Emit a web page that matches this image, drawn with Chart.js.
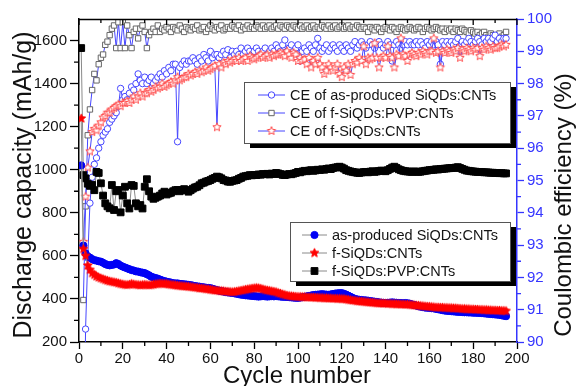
<!DOCTYPE html>
<html>
<head>
<meta charset="utf-8">
<script src="https://cdn.jsdelivr.net/npm/chart.js@4.4.0/dist/chart.umd.min.js"></script>
<style>
  html, body { margin: 0; padding: 0; background: #fff; }
  #wrap { width: 576px; height: 386px; }
</style>
</head>
<body>
<div id="wrap"><canvas id="chart" width="576" height="386"></canvas></div>
<script>
// cycle numbers 1..195
const cycles = Array.from({length: 195}, (_, i) => i + 1);

// discharge capacity (mAh/g)
const asCap = [
  1020, 648, 612, 598, 592, 585, 580, 578, 575, 573,
  568, 562, 558, 556, 558, 560, 566, 562, 555, 550,
  546, 542, 538, 534, 532, 528, 527, 524, 522, 520,
  515, 510, 503, 500, 497, 494, 490, 486, 483, 480,
  478, 476, 473, 472, 472, 470, 469, 468, 467, 465,
  464, 462, 460, 458, 457, 455, 454, 452, 451, 450,
  447, 444, 441, 438, 436, 434, 432, 430, 429, 428,
  426, 424, 422, 420, 419, 417, 416, 415, 414, 413,
  412, 411, 412, 413, 412, 411, 412, 413, 412, 413,
  412, 411, 410, 410, 409, 408, 407, 406, 405, 405,
  406, 408, 410, 412, 414, 416, 418, 419, 420, 421,
  422, 421, 420, 419, 421, 423, 425, 426, 427, 427,
  424, 420, 415, 410, 405, 400, 398, 396, 395, 394,
  393, 392, 390, 389, 387, 386, 384, 383, 382, 381,
  382, 383, 384, 383, 382, 381, 381, 380, 381, 380,
  378, 375, 372, 369, 366, 364, 362, 360, 359, 358,
  357, 356, 354, 352, 350, 348, 346, 345, 344, 343,
  342, 341, 340, 340, 339, 338, 338, 337, 337, 336,
  336, 335, 335, 334, 333, 332, 331, 330, 329, 328,
  327, 326, 324, 322, 320
];
const fCap = [
  1238, 632, 600, 555, 535, 520, 512, 505, 500, 496,
  492, 488, 485, 482, 480, 478, 476, 473, 470, 468,
  466, 465, 467, 470, 468, 466, 465, 464, 465, 466,
  465, 464, 465, 467, 469, 470, 472, 471, 470, 470,
  468, 466, 465, 464, 462, 461, 460, 459, 458, 457,
  456, 455, 453, 452, 450, 449, 448, 446, 445, 443,
  442, 440, 439, 438, 437, 436, 435, 434, 433, 432,
  433, 435, 437, 439, 441, 443, 445, 447, 449, 450,
  451, 450, 448, 445, 442, 440, 438, 436, 434, 432,
  428, 425, 422, 419, 416, 414, 413, 412, 411, 410,
  410, 409, 409, 408, 408, 407, 407, 406, 406, 405,
  405, 404, 404, 403, 403, 402, 402, 401, 401, 400,
  400, 398, 396, 395, 393, 392, 390, 389, 388, 387,
  386, 385, 384, 383, 382, 381, 380, 380, 379, 379,
  378, 378, 377, 377, 376, 376, 375, 375, 374, 374,
  373, 372, 371, 370, 369, 368, 367, 366, 365, 364,
  363, 362, 361, 361, 360, 360, 359, 359, 358, 358,
  357, 357, 356, 355, 354, 354, 353, 353, 352, 352,
  351, 351, 350, 350, 349, 349, 348, 348, 347, 347,
  346, 346, 345, 345, 344
];
const pvpCap = [
  1565, 975, 960, 935, 925, 930, 905, 990, 985, 937,
  880, 844, 830, 821, 929, 813, 900, 906, 802, 880,
  921, 844, 820, 929, 925, 844, 830, 836, 820, 921,
  956, 900, 875, 865, 870, 875, 880, 890, 898, 885,
  890, 893, 900, 905, 906, 900, 906, 910, 905, 898,
  905, 912, 918, 921, 928, 937, 940, 945, 948, 952,
  958, 962, 968, 965, 960, 952, 950, 945, 944, 948,
  950, 952, 958, 962, 968, 970, 972, 975, 974, 976,
  975, 978, 977, 980, 979, 981, 978, 982, 980, 985,
  983, 980, 976, 975, 978, 980, 979, 982, 985, 990,
  988, 992, 995, 993, 996, 998, 995, 997, 1000, 999,
  1002, 1000, 1004, 1006, 1003, 1008, 1010, 1012, 1014, 1010,
  1005, 998, 995, 992, 990, 988, 986, 985, 987, 989,
  990, 988, 991, 993, 990, 992, 994, 996, 995, 993,
  998, 1004, 1010, 1014, 1008, 1002, 998, 995, 993, 992,
  991, 990, 992, 991, 990, 991, 993, 995, 996, 998,
  999, 1000, 1002, 1001, 1003, 1004, 1005, 1006, 1007, 1008,
  1008, 1010, 1012, 1008, 1004, 1000, 996, 995, 993, 992,
  991, 990, 990, 989, 988, 988, 987, 986, 986, 985,
  985, 984, 984, 983, 983
];

// coulombic efficiency (%)
const asCE = [
  null, 85, 90.4, 92.6, 94.3, 95.1, 95.5, 95.7, 96.0, 96.2,
  96.4, 96.5, 96.6, 96.8, 96.9, 97.0, 97.1, 97.3, 97.85, 97.5,
  97.6, 97.5, 97.7, 97.9, 97.8, 98.0, 98.3, 98.1, 98.0, 98.2,
  98.0, 98.1, 98.2, 98.0, 98.1, 98.2, 98.3, 98.2, 98.4, 98.3,
  98.5, 98.4, 98.6, 98.6, 96.2, 98.5, 98.6, 98.7, 98.6, 98.7,
  98.7, 98.8, 98.7, 98.6, 98.8, 98.7, 98.9, 98.8, 98.7, 99.0,
  98.8, 98.9, 98.9, 98.8, 98.9, 99.0, 98.9, 99.05, 98.8, 99.0,
  98.9, 99.0, 98.9, 99.1, 98.9, 99.0, 99.1, 99.0, 98.9, 99.0,
  99.1, 99.0, 98.9, 99.0, 99.1, 98.9, 99.0, 99.1, 99.0, 99.2,
  99.1, 99.0, 99.2, 99.35, 99.0, 99.1, 99.2, 99.0, 99.1, 99.2,
  98.7, 99.0, 99.1, 99.0, 99.2, 99.1, 99.0, 99.2, 99.4, 99.1,
  99.0, 99.1, 99.2, 99.0, 99.1, 99.2, 99.1, 99.0, 99.2, 99.1,
  99.0, 99.2, 99.1, 99.0, 99.2, 99.3, 99.1, 99.2, 99.3, 99.2,
  99.1, 99.2, 99.3, 99.2, 99.1, 99.2, 99.3, 99.2, 99.1, 99.2,
  99.3, 99.2, 98.7, 99.2, 99.3, 99.2, 99.1, 99.2, 99.3, 99.2,
  99.3, 99.2, 99.2, 99.3, 99.2, 99.3, 99.2, 99.1, 99.3, 99.2,
  99.3, 99.2, 99.3, 99.2, 98.6, 99.3, 99.2, 99.3, 99.2, 99.3,
  99.2, 99.3, 99.4, 99.0, 99.3, 99.2, 99.3, 99.4, 99.3, 99.2,
  99.3, 99.4, 99.3, 99.2, 99.4, 99.3, 99.4, 99.3, 99.4, 99.5,
  99.3, 99.4, 99.3, 99.4, 99.4
];
const fCE = [
  null, 93.1, 94.5, 95.4, 95.9, 96.5, 96.6, 96.55, 96.7, 96.8,
  96.95, 97.0, 97.1, 97.1, 97.2, 97.25, 97.3, 97.35, 97.3, 97.4,
  97.4, 97.45, 97.4, 97.5, 97.6, 97.5, 97.6, 97.7, 97.6, 97.7,
  97.7, 97.8, 97.75, 97.8, 97.9, 97.85, 97.9, 98.0, 97.9, 97.95,
  98.0, 98.05, 98.0, 98.1, 98.2, 98.1, 98.15, 98.2, 98.2, 98.3,
  98.25, 98.3, 98.35, 98.3, 98.4, 98.35, 98.4, 98.5, 98.4, 98.45,
  98.5, 98.55, 96.65, 98.6, 98.5, 98.65, 98.6, 98.7, 98.65, 98.7,
  98.75, 98.7, 98.8, 98.7, 98.75, 98.8, 98.7, 98.85, 98.8, 98.75,
  98.8, 98.85, 98.9, 98.8, 98.85, 98.9, 98.8, 98.9, 98.85, 98.9,
  98.9, 98.95, 98.9, 98.85, 99.0, 98.9, 98.8, 98.95, 98.9, 98.7,
  98.8, 98.7, 98.75, 98.6, 98.8, 98.5, 98.7, 98.6, 98.8, 98.6,
  98.5, 98.3, 98.4, 98.6, 98.5, 98.4, 98.5, 98.6, 98.3, 98.2,
  98.5, 98.4, 98.6, 98.27, 98.6, 98.7, 98.65, 98.8, 98.7, 99.15,
  98.6, 98.8, 98.75, 98.8, 99.25, 98.8, 98.5, 98.8, 98.85, 98.8,
  99.15, 98.85, 98.8, 98.5, 98.9, 98.85, 99.4, 98.9, 98.85, 98.7,
  98.9, 98.95, 98.9, 98.85, 98.95, 98.9, 99.0, 98.95, 98.9, 99.0,
  99.0, 99.4, 98.95, 99.0, 98.5, 99.0, 98.95, 99.05, 99.0, 98.95,
  99.05, 99.0, 99.1, 98.8, 99.05, 99.0, 99.1, 99.05, 99.0, 99.1,
  99.05, 99.1, 98.85, 99.1, 99.05, 99.15, 99.1, 99.05, 99.15, 99.1,
  99.1, 99.15, 99.2, 99.15, 99.2
];
const pvpCE = [
  null, 91.3, 94.2, 96.4, 97.2, 97.8, 98.3, 98.1, 98.6, 98.8,
  98.9, 99.2, 99.3, 99.5, 99.7, 99.8, 99.1, 99.9, 99.1, 99.9,
  99.1, 99.8, 99.5, 99.1, 99.6, 99.7, 99.4, 99.7, 99.8, 99.6,
  99.1, 99.5, 99.6, 99.7, 99.6, 99.8, 99.6, 99.7, 99.65, 99.75,
  99.7, 99.6, 99.75, 99.7, 99.65, 99.8, 99.7, 99.6, 99.75, 99.7,
  99.65, 99.75, 99.7, 99.8, 99.65, 99.7, 99.75, 99.6, 99.7, 99.8,
  99.7, 99.65, 99.75, 99.7, 99.8, 99.65, 99.7, 99.75, 99.7, 99.8,
  99.75, 99.7, 99.8, 99.65, 99.75, 99.7, 99.8, 99.7, 99.75, 99.7,
  99.8, 99.75, 99.7, 99.8, 99.7, 99.75, 99.8, 99.7, 99.75, 99.8,
  99.7, 99.8, 99.75, 99.7, 99.8, 99.75, 99.7, 99.8, 99.75, 99.7,
  99.8, 99.7, 99.75, 99.8, 99.7, 99.75, 99.8, 99.7, 99.75, 99.7,
  99.8, 99.75, 99.7, 99.8, 99.7, 99.75, 99.8, 99.7, 99.75, 99.8,
  99.7, 99.75, 99.8, 99.7, 99.75, 99.7, 99.8, 99.75, 99.7, 99.75,
  99.7, 99.6, 99.75, 99.7, 99.65, 99.75, 99.7, 99.6, 99.7, 99.75,
  99.7, 99.65, 99.75, 99.7, 99.6, 99.7, 99.75, 99.7, 99.65, 99.7,
  99.75, 99.7, 99.65, 99.7, 99.75, 99.7, 99.6, 99.7, 99.75, 99.7,
  99.65, 99.7, 99.75, 99.7, 99.65, 99.7, 99.6, 99.7, 99.65, 99.7,
  99.6, 99.7, 99.65, 99.6, 99.7, 99.65, 99.6, 99.55, 99.65, 99.6,
  99.55, 99.6, 99.5, 99.55, 99.6, 99.5, 99.45, 99.55, 99.5, 99.45,
  99.5, 99.55, 99.45, 99.5, 99.6
];

// tick labels
const xTicks = [0, 20, 40, 60, 80, 100, 120, 140, 160, 180, 200];
const capTicks = [200, 400, 600, 800, 1000, 1200, 1400, 1600];
const ceTicks = [90, 91, 92, 93, 94, 95, 96, 97, 98, 99, 100];

const FONT = "'Liberation Sans', Arial, sans-serif";
const AXIS_BLUE = '#3535ff';
const CE_BLUE = '#4646ff';
const CAP_LINE = '#8a8a8a';

function makeStar(fill, stroke, r) {
  const size = Math.ceil(r * 2 + 3);
  const c = document.createElement('canvas');
  c.width = c.height = size;
  const g = c.getContext('2d');
  g.beginPath();
  for (let k = 0; k < 10; k++) {
    const rr = k % 2 ? r * 0.45 : r;
    const a = -Math.PI / 2 + k * Math.PI / 5;
    g.lineTo(size / 2 + rr * Math.cos(a), size / 2 + rr * Math.sin(a));
  }
  g.closePath();
  if (fill) { g.fillStyle = fill; g.fill(); }
  if (stroke) { g.strokeStyle = stroke; g.lineWidth = 1; g.stroke(); }
  return c;
}
const starFilled = makeStar('#ff0000', '#ff0000', 4.6);
const starOpen = makeStar('#ffffff', '#ff4a4a', 4.4);

const pts = arr => cycles.map((c, i) => ({x: c, y: arr[i]}));

const capStyle = {yAxisID: 'y', borderColor: CAP_LINE, borderWidth: 1, tension: 0};
const ceStyle = {yAxisID: 'y2', borderColor: CE_BLUE, borderWidth: 1, tension: 0};

const datasets = [
  {...capStyle, label: 'f-SiQDs:CNTs', data: pts(fCap), pointStyle: starFilled,
    pointRadius: 4, pointBackgroundColor: '#ff0000', pointBorderColor: '#ff0000', pointBorderWidth: 0},
  {...capStyle, label: 'as-produced SiQDs:CNTs', data: pts(asCap), pointStyle: 'circle',
    pointRadius: 3.6, pointBackgroundColor: '#0000f5', pointBorderColor: '#0000f5', pointBorderWidth: 1},
  {...capStyle, label: 'f-SiQDs:PVP:CNTs', data: pts(pvpCap), pointStyle: 'rect',
    pointRadius: 4.8, pointBackgroundColor: '#000', pointBorderColor: '#000', pointBorderWidth: 1},
  {...ceStyle, label: 'CE of f-SiQDs:CNTs', data: pts(fCE), pointStyle: starOpen,
    pointRadius: 4, pointBackgroundColor: '#fff', pointBorderColor: '#ff4a4a', pointBorderWidth: 1},
  {...ceStyle, label: 'CE of as-produced SiQDs:CNTs', data: pts(asCE), pointStyle: 'circle',
    pointRadius: 3.2, pointBackgroundColor: '#fff', pointBorderColor: CE_BLUE, pointBorderWidth: 1},
  {...ceStyle, label: 'CE of f-SiQDs:PVP:CNTs', data: pts(pvpCE), pointStyle: 'rect',
    pointRadius: 3.8, pointBackgroundColor: '#fff', pointBorderColor: '#666', pointBorderWidth: 1}
];

function drawLegend(ctx, chart, box, order, lineColor) {
  ctx.fillStyle = '#000';
  ctx.fillRect(box.x + 6, box.y + 5, box.w, box.h);
  ctx.fillStyle = '#fff';
  ctx.fillRect(box.x, box.y, box.w, box.h);
  ctx.strokeStyle = '#555';
  ctx.lineWidth = 1;
  ctx.strokeRect(box.x + 0.5, box.y + 0.5, box.w, box.h);
  order.forEach((idx, i) => {
    const ds = chart.data.datasets[idx];
    const yy = box.rows[i];
    ctx.strokeStyle = lineColor;
    ctx.lineWidth = 1;
    ctx.beginPath();
    ctx.moveTo(box.lx0, yy);
    ctx.lineTo(box.lx1, yy);
    ctx.stroke();
    ctx.fillStyle = ds.pointBackgroundColor;
    ctx.strokeStyle = ds.pointBorderColor;
    ctx.lineWidth = ds.pointBorderWidth;
    Chart.helpers.drawPoint(ctx, {pointStyle: ds.pointStyle, radius: ds.pointRadius,
      rotation: 0, borderWidth: ds.pointBorderWidth}, (box.lx0 + box.lx1) / 2, yy);
    ctx.fillStyle = '#141414';
    ctx.font = '14.5px ' + FONT;
    ctx.textAlign = 'left';
    ctx.textBaseline = 'middle';
    ctx.fillText(ds.label, box.tx, yy + 1);
  });
}

const decorations = {
  id: 'decorations',
  afterDraw(chart) {
    const {ctx, chartArea: a} = chart;
    const {x, y, y2} = chart.scales;
    ctx.save();
    // top frame and minor ticks
    ctx.strokeStyle = '#000';
    ctx.lineWidth = 1.3;
    ctx.beginPath();
    ctx.moveTo(a.left, a.top + 0.5);
    ctx.lineTo(a.right, a.top + 0.5);
    for (let c = 0; c <= 200; c += 10) {
      const px = x.getPixelForValue(c);
      ctx.moveTo(px, a.top);
      ctx.lineTo(px, a.top + (c % 20 ? 4 : 6));
      if (c % 20) {
        ctx.moveTo(px, a.bottom);
        ctx.lineTo(px, a.bottom + 4);
      }
    }
    for (let v = 300; v < 1700; v += 200) {
      const py = y.getPixelForValue(v);
      ctx.moveTo(a.left - 5, py);
      ctx.lineTo(a.left, py);
    }
    ctx.stroke();
    ctx.strokeStyle = AXIS_BLUE;
    ctx.beginPath();
    for (let v = 90.5; v < 100; v += 1) {
      const py = y2.getPixelForValue(v);
      ctx.moveTo(a.right, py);
      ctx.lineTo(a.right + 4, py);
    }
    ctx.stroke();

    // axis titles
    ctx.fillStyle = '#111';
    ctx.textAlign = 'center';
    ctx.textBaseline = 'alphabetic';
    ctx.font = '25px ' + FONT;
    ctx.save();
    ctx.translate(31, 185);
    ctx.rotate(-Math.PI / 2);
    ctx.fillText('Discharge capacity (mAh/g)', 0, 0);
    ctx.restore();
    ctx.font = '24px ' + FONT;
    ctx.save();
    ctx.translate(571, 205);
    ctx.rotate(-Math.PI / 2);
    ctx.fillText('Coulombic efficiency (%)', 0, 0);
    ctx.restore();
    ctx.fillText('Cycle number', 297, 383);

    // legends
    drawLegend(ctx, chart, {x: 244, y: 82, w: 266, h: 61, rows: [95, 113, 131],
      lx0: 258, lx1: 285, tx: 290}, [4, 5, 3], CE_BLUE);
    drawLegend(ctx, chart, {x: 290, y: 222, w: 220, h: 59, rows: [235, 253, 271],
      lx0: 302, lx1: 327, tx: 332}, [1, 0, 2], CAP_LINE);
    ctx.restore();
  }
};

const tickFont = {family: FONT, size: 15};

new Chart(document.getElementById('chart'), {
  type: 'line',
  data: {datasets},
  options: {
    responsive: false,
    animation: false,
    devicePixelRatio: 1,
    events: [],
    layout: {padding: {top: 19, left: 0, right: 0, bottom: 0}},
    plugins: {legend: {display: false}, tooltip: {enabled: false}},
    scales: {
      x: {
        type: 'linear', position: 'bottom', min: 0, max: 200,
        afterBuildTicks: s => { s.ticks = xTicks.map(v => ({value: v})); },
        afterFit: s => { s.height = 44; },
        ticks: {font: tickFont, color: '#111', padding: 1, maxRotation: 0, autoSkip: false,
          callback: v => String(v)},
        grid: {drawOnChartArea: false, tickLength: 7, tickColor: '#000', tickWidth: 1.3},
        border: {color: '#000', width: 1.5}
      },
      y: {
        type: 'linear', position: 'left', min: 200, max: 1700,
        afterBuildTicks: s => { s.ticks = capTicks.map(v => ({value: v})); },
        afterFit: s => { s.width = 79; },
        ticks: {font: tickFont, color: '#111', padding: 3, autoSkip: false,
          callback: v => String(v)},
        grid: {drawOnChartArea: false, tickLength: 9, tickColor: '#000', tickWidth: 1.3},
        border: {color: '#000', width: 1.5}
      },
      y2: {
        type: 'linear', position: 'right', min: 90, max: 100,
        afterBuildTicks: s => { s.ticks = ceTicks.map(v => ({value: v})); },
        afterFit: s => { s.width = 59; },
        ticks: {font: tickFont, color: AXIS_BLUE, padding: 3, autoSkip: false,
          callback: v => String(v)},
        grid: {drawOnChartArea: false, tickLength: 7, tickColor: AXIS_BLUE, tickWidth: 1.3},
        border: {color: AXIS_BLUE, width: 1.5}
      }
    }
  },
  plugins: [decorations]
});
</script>
</body>
</html>
